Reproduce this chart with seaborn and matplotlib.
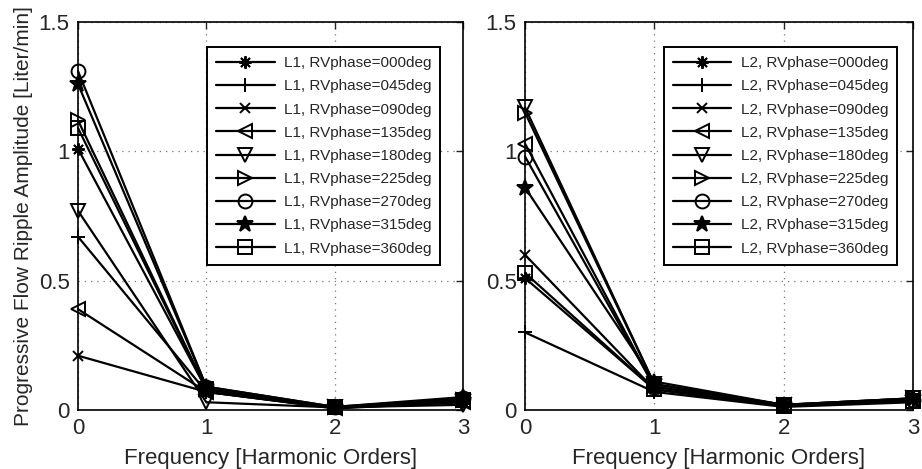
import numpy as np
import pandas as pd
import matplotlib
matplotlib.use("Agg")
import matplotlib.pyplot as plt
import seaborn as sns

# harmonic orders and RV phase labels
orders = [0, 1, 2, 3]
phases = ["000", "045", "090", "135", "180", "225", "270", "315", "360"]
markers = [(8, 2, 0), "+", "x", "<", "v", ">", "o", "*", "s"]

# ripple amplitude per phase, L1 (left) and L2 (right)
l1_000 = [1.01, 0.08, 0.010, 0.040]
l1_045 = [0.67, 0.07, 0.008, 0.035]
l1_090 = [0.21, 0.07, 0.006, 0.030]
l1_135 = [0.39, 0.07, 0.008, 0.030]
l1_180 = [0.77, 0.03, 0.010, 0.020]
l1_225 = [1.12, 0.08, 0.010, 0.040]
l1_270 = [1.31, 0.09, 0.012, 0.045]
l1_315 = [1.26, 0.09, 0.012, 0.050]
l1_360 = [1.09, 0.08, 0.010, 0.040]

l2_000 = [0.51, 0.08, 0.015, 0.040]
l2_045 = [0.30, 0.07, 0.012, 0.030]
l2_090 = [0.60, 0.08, 0.015, 0.035]
l2_135 = [1.03, 0.09, 0.018, 0.040]
l2_180 = [1.17, 0.10, 0.020, 0.045]
l2_225 = [1.15, 0.10, 0.020, 0.045]
l2_270 = [0.98, 0.09, 0.018, 0.040]
l2_315 = [0.86, 0.11, 0.020, 0.045]
l2_360 = [0.53, 0.08, 0.015, 0.035]

l1 = [l1_000, l1_045, l1_090, l1_135, l1_180, l1_225, l1_270, l1_315, l1_360]
l2 = [l2_000, l2_045, l2_090, l2_135, l2_180, l2_225, l2_270, l2_315, l2_360]

sns.set_style("white")
plt.rcParams["font.family"] = ["Liberation Sans", "DejaVu Sans"]

fig = plt.figure(figsize=(9.22, 4.69), dpi=100)
W, H = 922, 469
ax_l = fig.add_axes([78 / W, (H - 410) / H, 385 / W, 388 / H])
ax_r = fig.add_axes([525 / W, (H - 410) / H, 388 / W, 388 / H])


def draw(ax, series, tag, anchor):
    for ph, mk, vals in zip(phases, markers, series):
        fill = "k" if mk == "*" else "none"
        size = {"*": 12, "x": 7, (8, 2, 0): 9}.get(mk, 10)
        sns.lineplot(x=orders, y=vals, ax=ax, color="k", lw=1.6,
                     marker=mk, markersize=size,
                     markerfacecolor=fill, markeredgecolor="k",
                     markeredgewidth=1.4, clip_on=False, zorder=3,
                     label=f"{tag}, RVphase={ph}deg")
    ax.set_xlim(0, 3)
    ax.set_ylim(0, 1.5)
    ax.set_xticks([0, 1, 2, 3])
    ax.set_yticks([0, 0.5, 1, 1.5])
    ax.set_yticklabels(["0", "0.5", "1", "1.5"])
    ax.grid(True, ls=(0, (1, 4)), color="#777777", lw=0.9)
    ax.tick_params(direction="in", labelsize=16, top=True, right=True,
                   length=5, width=1, pad=6)
    for sp in ax.spines.values():
        sp.set_color("k")
        sp.set_linewidth(1.2)
    ax.set_xlabel("Frequency [Harmonic Orders]", fontsize=16, labelpad=6)
    leg = ax.legend(loc="upper right", bbox_to_anchor=anchor, fontsize=11,
                    frameon=True, fancybox=False, edgecolor="k",
                    handlelength=3.8, borderpad=0.6, labelspacing=0.6,
                    handletextpad=0.6)
    leg.get_frame().set_linewidth(1.4)
    leg.get_frame().set_alpha(1)
    leg.set_zorder(5)


draw(ax_l, l1, "L1", (0.961, 0.955))
draw(ax_r, l2, "L2", (0.979, 0.955))
ax_l.set_ylabel("Progressive Flow Ripple Amplitude [Liter/min]", fontsize=15,
                labelpad=4)
ax_r.set_ylabel("")

fig.savefig("out.png", dpi=100)
